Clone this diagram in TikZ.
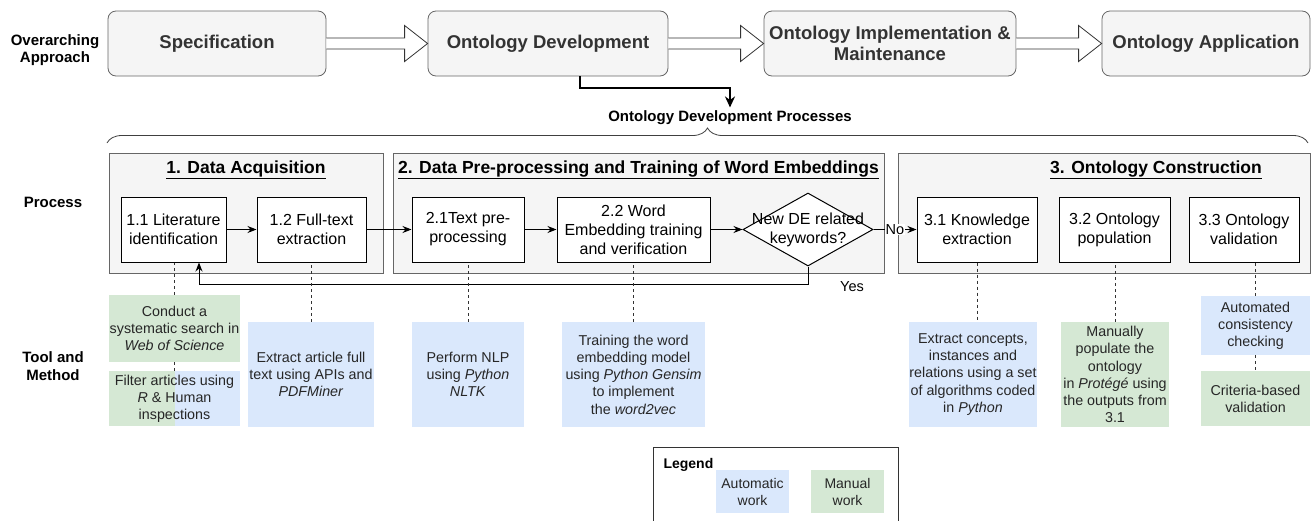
\documentclass[tikz,border=0pt]{standalone}
\usepackage{fontspec}
\setmainfont{Liberation Sans}
\usetikzlibrary{arrows.meta,calc,shapes.geometric,decorations.pathreplacing}
\definecolor{gfill}{HTML}{F5F5F5}
\definecolor{gline}{HTML}{666666}
\definecolor{gtext}{HTML}{333333}
\definecolor{autoc}{HTML}{DAE8FC}
\definecolor{manc}{HTML}{D5E8D4}
\newcommand{\blockarrow}[2]{%
  \draw[line width=0.8pt, draw=black!80, fill=white]
    ($(#1.east)+(0,-5.5)$) -- ($(#2.west)+(-23,-5.5)$) -- ($(#2.west)+(-23,-18)$)
    -- (#2.west) -- ($(#2.west)+(-23,18)$) -- ($(#2.west)+(-23,5.5)$) -- ($(#1.east)+(0,5.5)$);}
\begin{document}
\begin{tikzpicture}[x=1pt,y=-1pt,
  topbox/.style={draw=gline, fill=gfill, rounded corners=8pt, line width=0.8pt, text=gtext,
    font=\bfseries\fontsize{18.5}{21.5}\selectfont, align=center, minimum height=65pt, inner sep=0pt},
  group/.style={draw=gline, fill=gfill, line width=0.8pt, minimum height=120pt, inner sep=0pt},
  gtitle/.style={font=\bfseries\fontsize{17.5}{21}\selectfont},
  proc/.style={draw=black, fill=white, line width=1pt, font=\fontsize{16}{19}\selectfont,
    align=center, minimum height=65pt, inner sep=0pt},
  tool/.style={font=\fontsize{14.3}{17.2}\selectfont, align=center, inner sep=0pt, text=black!85},
  autobox/.style={tool, fill=autoc},
  manbox/.style={tool, fill=manc},
  side/.style={font=\bfseries\fontsize{15}{17.5}\selectfont, align=center},
  arr/.style={-{Stealth[length=9pt,width=7pt]}, line width=1pt},
  dashline/.style={draw=black!80, line width=0.8pt, dash pattern=on 3pt off 3pt},
  lab/.style={font=\fontsize{14.5}{17}\selectfont}
]
\useasboundingbox (0,0) rectangle (1312,520);

% side labels
\node[side] (lab1) at (55,50) {Overarching\\Approach};
\node[side] (lab2) at (53,202) {Process};
\node[side] (lab3) at (53,366) {Tool and\\Method};

% top row
\node[topbox, minimum width=218pt] (spec) at (217,43.5) {Specification};
\node[topbox, minimum width=240pt] (od) at (548,43.5) {Ontology Development};
\node[topbox, minimum width=252pt] (oim) at (890,43.5) {Ontology Implementation \&\\Maintenance};
\node[topbox, minimum width=208pt] (oa) at (1206,43.5) {Ontology Application};
\blockarrow{spec}{od}
\blockarrow{od}{oim}
\blockarrow{oim}{oa}

\node[font=\bfseries\fontsize{15}{18}\selectfont] (odp) at (730,118) {Ontology Development Processes};
\draw[line width=2pt, -{Stealth[length=11pt,width=10pt]}] ([xshift=32pt]od.south) -- ++(0,12) -| (odp.north);

\draw[draw=black!75, line width=0.8pt, decorate, decoration={brace, amplitude=15pt}] (107,143) -- (1308,143);

% groups
\node[group, minimum width=274pt] (g1) at (246,213) {};
\node[group, minimum width=491pt] (g2) at (638.5,213) {};
\node[group, minimum width=412pt] (g3) at (1104,213) {};
\node[gtitle] (t1) at (246,170) {\underline{1. Data Acquisition}};
\node[gtitle] (t2) at (638.5,170) {\underline{2. Data Pre-processing and Training of Word Embeddings}};
\node[gtitle] (t3) at (1156,170) {\underline{3. Ontology Construction}};

% process boxes
\node[proc, minimum width=105pt] (p11) at (173.5,229.5) {1.1 Literature\\identification};
\node[proc, minimum width=109pt] (p12) at (311.5,229.5) {1.2 Full-text\\extraction};
\node[proc, minimum width=112pt] (p21) at (468,229.5) {2.1Text pre-\\processing};
\node[proc, minimum width=153pt] (p22) at (633.5,229.5) {2.2 Word\\Embedding training\\and verification};
\node[diamond, draw=black, fill=white, line width=1pt, minimum width=130pt, minimum height=73pt, inner sep=0pt] (dec) at (808,229.5) {};
\node[font=\fontsize{16}{19}\selectfont, align=center] (dectext) at (dec) {New DE related\\keywords?};
\node[proc, minimum width=120pt] (p31) at (977,229.5) {3.1 Knowledge\\extraction};
\node[proc, minimum width=111pt] (p32) at (1114.5,229.5) {3.2 Ontology\\population};
\node[proc, minimum width=110pt] (p33) at (1244,229.5) {3.3 Ontology\\validation};

\draw[arr] (p11) -- (p12);
\draw[arr] (p12) -- (p21);
\draw[arr] (p21) -- (p22);
\draw[arr] (p22) -- (dec);
\draw[arr] (dec.east) -- node[lab, fill=white, inner sep=0.5pt] {No} (p31.west);
\draw[arr] (dec.south) -- ++(0,18) -| ([xshift=25.5pt]p11.south);
\node[lab] (yes) at ([shift={(44,20)}]dec.south) {Yes};

% tool boxes
\node[manbox, minimum width=131pt, minimum height=67pt] (t11a) at (174.5,328.5) {Conduct a\\systematic search in\\\textit{Web of Science}};
\node[autobox, minimum width=131pt, minimum height=55pt,
  path picture={\fill[manc] (path picture bounding box.north west) rectangle (path picture bounding box.south);}]
  (t11b) at (174.5,398.5) {Filter articles using\\\textit{R} \& Human\\inspections};
\node[autobox, minimum width=126pt, minimum height=105pt] (t12) at (311,374.5) {Extract article full\\text using APIs and\\\textit{PDFMiner}};
\node[autobox, minimum width=112pt, minimum height=105pt] (t21) at (468,374.5) {Perform NLP\\using \textit{Python}\\\textit{NLTK}};
\node[autobox, minimum width=143pt, minimum height=105pt] (t22) at (633.5,374.5) {Training the word\\embedding model\\using \textit{Python Gensim}\\to implement\\the \textit{word2vec}};
\node[autobox, minimum width=126pt, minimum height=105pt] (t31) at (973,374.5) {Extract concepts,\\instances and\\relations using a set\\of algorithms coded\\in \textit{Python}};
\node[manbox, minimum width=108pt, minimum height=105pt] (t32) at (1115,374.5) {Manually\\populate the\\ontology\\in \textit{Protégé} using\\the outputs from\\3.1};
\node[autobox, minimum width=109pt, minimum height=59pt] (t33a) at (1255.5,325.5) {Automated\\consistency\\checking};
\node[manbox, minimum width=109pt, minimum height=55pt] (t33b) at (1255.5,398.5) {Criteria-based\\validation};

% dashed links
\draw[dashline] (t11a.north) -- (t11a.north |- p11.south);
\draw[dashline] (t11a.south) -- (t11b.north);
\draw[dashline] (t12.north) -- (t12.north |- p12.south);
\draw[dashline] (t21.north) -- (t21.north |- p21.south);
\draw[dashline] (t22.north) -- (t22.north |- p22.south);
\draw[dashline] (p31.south) -- (p31.south |- t31.north);
\draw[dashline] (t32.north) -- (t32.north |- p32.south);
\draw[dashline] (t33a.north) -- (t33a.north |- p33.south);
\draw[dashline] (t33a.south) -- (t33b.north);

% legend (bottom edge falls outside the picture, as in the reference)
\node[draw=black!80, line width=0.8pt, minimum width=245pt, minimum height=95pt, inner sep=0pt] (leg) at (775.5,494.5) {};
\node[font=\bfseries\fontsize{14}{16}\selectfont, anchor=west] (legt) at (660,465) {Legend};
\node[autobox, minimum width=73pt, minimum height=43pt, font=\fontsize{14}{17}\selectfont] (lega) at (752.5,491.5) {Automatic\\work};
\node[manbox, minimum width=73pt, minimum height=43pt, font=\fontsize{14}{17}\selectfont] (legm) at (847.5,491.5) {Manual\\work};
\end{tikzpicture}
\end{document}
